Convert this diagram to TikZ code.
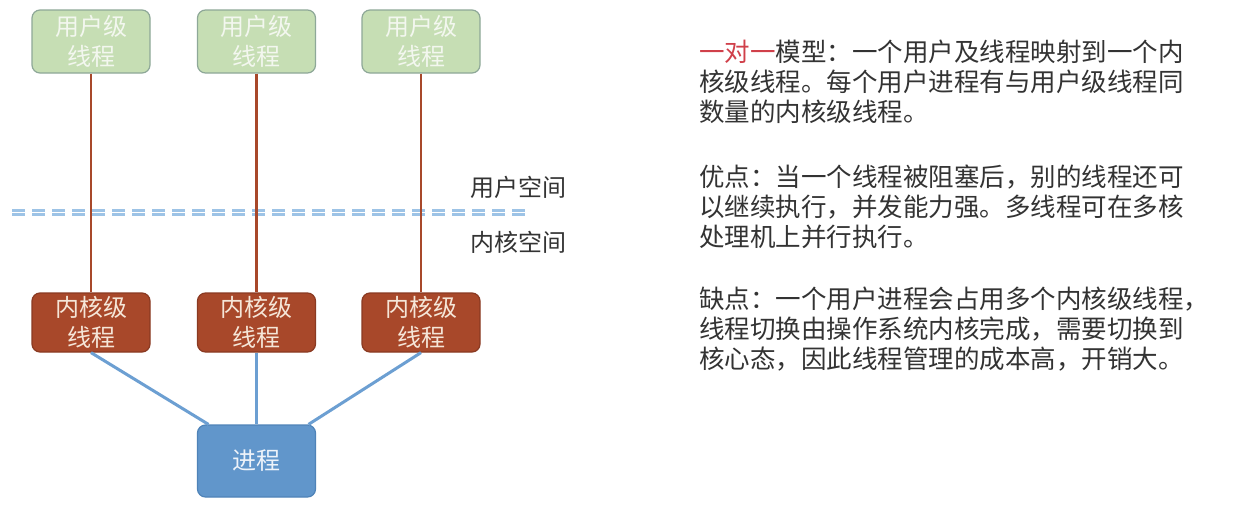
\documentclass[tikz,border=0pt]{standalone}
\usepackage{fontspec}
\setmainfont{Noto Sans CJK SC}
\begin{document}
\begin{tikzpicture}[x=1pt,y=-1pt,
  box/.style={rounded corners=8pt, minimum width=118pt, inner sep=0pt, align=center,
    font=\fontsize{24}{30}\selectfont, line width=1.2pt},
  ubox/.style={box, minimum height=63pt, fill=ugreen, draw=ugreenb, text=ugreent},
  kbox/.style={box, minimum height=59pt, fill=kbrown, draw=kbrownb, text=kbrownt},
  pbox/.style={box, minimum height=72pt, fill=pblue, draw=pblueb, text=pbluet},
  redline/.style={draw=kbrown, line width=2.6pt},
  blueline/.style={draw=lblue, line width=3pt},
  sepline/.style={draw=dblue, line width=2.2pt, dash pattern=on 13pt off 7pt},
  para/.style={anchor=base west, align=left, inner sep=0pt, text=tgray,
    font=\fontsize{25.5}{29.8}\selectfont},
  lab/.style={inner sep=0pt, text=tgray, font=\fontsize{24}{30}\selectfont}
]
\definecolor{ugreen}{HTML}{C6DEB4}
\definecolor{ugreenb}{HTML}{8EA898}
\definecolor{ugreent}{HTML}{F3F7EF}
\definecolor{kbrown}{HTML}{A8482A}
\definecolor{kbrownb}{HTML}{8A3A22}
\definecolor{kbrownt}{HTML}{F5E6D8}
\definecolor{pblue}{HTML}{6196CB}
\definecolor{pblueb}{HTML}{4F83B8}
\definecolor{pbluet}{HTML}{EEF3FA}
\definecolor{lblue}{HTML}{6C9FD2}
\definecolor{dblue}{HTML}{9DC3E6}
\definecolor{tgray}{HTML}{333333}
\definecolor{tred}{HTML}{D0404A}

\fill[white] (0,0) rectangle (1240,509);
\useasboundingbox (0,0) rectangle (1240,509);

% user threads
\node[ubox] (u1) at (91,41.5) {用户级\\线程};
\node[ubox] (u2) at (256.5,41.5) {用户级\\线程};
\node[ubox] (u3) at (421,41.5) {用户级\\线程};

% kernel threads
\node[kbox] (k1) at (91,322.5) {内核级\\线程};
\node[kbox] (k2) at (256.5,322.5) {内核级\\线程};
\node[kbox] (k3) at (421,322.5) {内核级\\线程};

% process
\node[pbox] (p) at (256.5,461) {进程};

% separator
\coordinate (s1a) at (12,210.5);
\coordinate (s1b) at (525,210.5);
\coordinate (s2a) at (12,214.5);
\coordinate (s2b) at (525,214.5);
\draw[sepline] (s1a) -- (s1b);
\draw[sepline] (s2a) -- (s2b);

% red links
\draw[redline] (u1.south) -- (k1.north);
\draw[redline] (u2.south) -- (k2.north);
\draw[redline] (u3.south) -- (k3.north);

% blue links
\draw[blueline] (k1.south) -- ([xshift=-48pt]p.north);
\draw[blueline] (k2.south) -- (p.north);
\draw[blueline] (k3.south) -- ([xshift=52pt]p.north);

% space labels
\node[lab] (us) at (518,187) {用户空间};
\node[lab] (ks) at (518,242) {内核空间};

% text (base anchor = baseline of the last line)
\node[para] (t1) at (699,121) {\textcolor{tred}{一对一}模型：一个用户及线程映射到一个内\\核级线程。每个用户进程有与用户级线程同\\数量的内核级线程。};
\node[para] (t2) at (699,246) {优点：当一个线程被阻塞后，别的线程还可\\以继续执行，并发能力强。多线程可在多核\\处理机上并行执行。};
\node[para] (t3) at (699,368) {缺点：一个用户进程会占用多个内核级线程，\\线程切换由操作系统内核完成，需要切换到\\核心态，因此线程管理的成本高，开销大。};
\end{tikzpicture}
\end{document}
